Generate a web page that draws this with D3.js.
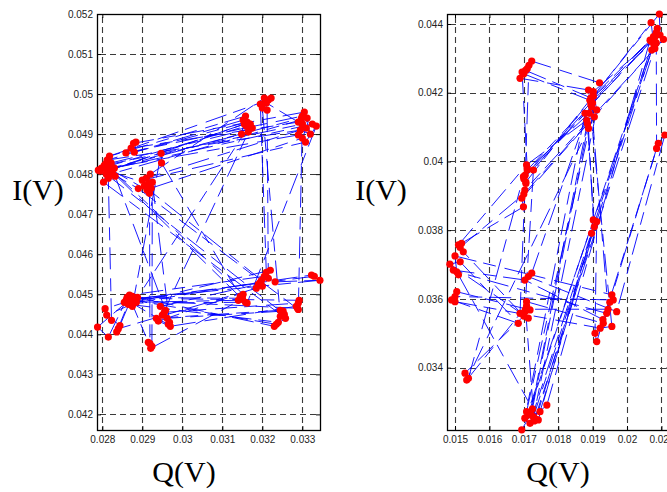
<!DOCTYPE html>
<html><head><meta charset="utf-8">
<script src="https://cdn.jsdelivr.net/npm/d3@7"></script>
<style>body{margin:0;background:#fff} svg{display:block}</style>
</head><body>
<svg id="chart" width="667" height="492"></svg>
<script>
// ---- data: constellation trajectory samples [Q(V), I(V)] in time order ----
const leftPts = [
[0.02815,0.04810],[0.02805,0.04822],[0.03300,0.04925],[0.03312,0.04940],[0.02820,0.04800],
[0.02798,0.04815],[0.03160,0.04920],[0.03152,0.04935],[0.02812,0.04835],[0.03295,0.04910],
[0.03320,0.04900],[0.03305,0.04955],[0.02878,0.04877],[0.02872,0.04865],[0.03290,0.04930],
[0.03210,0.04978],[0.03222,0.04990],[0.03200,0.04965],[0.03245,0.04445],[0.03252,0.04458],
[0.02962,0.04440],[0.02955,0.04455],[0.03290,0.04478],[0.03288,0.04465],[0.02870,0.04485],
[0.02862,0.04492],[0.03150,0.04490],[0.03158,0.04480],[0.02878,0.04478],[0.03195,0.04530],
[0.03205,0.04545],[0.02868,0.04498],[0.02855,0.04480],[0.03323,0.04548],[0.03330,0.04545],
[0.02882,0.04488],[0.02807,0.04464],[0.02823,0.04435],[0.02815,0.04790],[0.02825,0.04805],
[0.02915,0.04775],[0.02922,0.04765],[0.03300,0.04890],[0.03310,0.04915],[0.02910,0.04790],
[0.02918,0.04752],[0.02919,0.04377],[0.02924,0.04370],[0.02925,0.04780],[0.02968,0.04430],
[0.02950,0.04448],[0.03165,0.04905],[0.03170,0.04925],[0.02888,0.04492],[0.02875,0.04470],
[0.02947,0.04852],[0.02948,0.04828],[0.03145,0.04495],[0.03152,0.04500],[0.02808,0.04825],
[0.02795,0.04808],[0.03298,0.04940],[0.03325,0.04925],[0.02830,0.04815],[0.03148,0.04900],
[0.03158,0.04945],[0.02818,0.04845],[0.03215,0.04985],[0.03195,0.04975],[0.03210,0.04555],
[0.03220,0.04560],[0.02865,0.04475],[0.03240,0.04430],[0.03255,0.04450],[0.02810,0.04800],
[0.02832,0.04795],[0.02958,0.04460],[0.02945,0.04470],[0.03190,0.04525],[0.03185,0.04515],
[0.02840,0.04414],[0.02836,0.04406],[0.02870,0.04490],[0.03292,0.04485],[0.03285,0.04470],
[0.02970,0.04420],[0.02940,0.04433],[0.03200,0.04520],[0.03198,0.04535],[0.02905,0.04770],
[0.02900,0.04785],[0.03308,0.04880],[0.03335,0.04920],[0.03162,0.04478],[0.03140,0.04485],
[0.02885,0.04480],[0.02811,0.04448],[0.02844,0.04422],[0.02875,0.04495],[0.03230,0.04420],
[0.03258,0.04440],[0.02803,0.04780],[0.02822,0.04828],[0.03175,0.04915],[0.03162,0.04930],
[0.02880,0.04855],[0.02884,0.04880],[0.02859,0.04853],[0.03300,0.04945],[0.03290,0.04898],
[0.02790,0.04810],[0.02815,0.04815],[0.02912,0.04760],[0.02920,0.04800],[0.03205,0.04990],
[0.03212,0.04960],[0.03215,0.04540],[0.03232,0.04531],[0.03344,0.04535],[0.02870,0.04488],
[0.02788,0.04418],[0.02815,0.04393],[0.02860,0.04486],[0.02965,0.04425],[0.02935,0.04440],
[0.03245,0.04460],[0.03235,0.04425],[0.02878,0.04485],[0.02868,0.04492],[0.02915,0.04380],
[0.02921,0.04365],[0.03150,0.04488],[0.02820,0.04810],[0.03155,0.04925],[0.02812,0.04808],
[0.02890,0.04764],[0.03290,0.04462],[0.03300,0.04925]
];
const rightPts = [
[0.01706,0.03936],[0.01700,0.03950],[0.01897,0.04159],[0.01890,0.04140],[0.01710,0.03975],
[0.02077,0.04363],[0.02070,0.04350],[0.01902,0.04203],[0.01912,0.04150],[0.01728,0.03257],
[0.01718,0.03238],[0.02088,0.04387],[0.02081,0.04329],[0.01694,0.03893],[0.01699,0.03868],
[0.01519,0.03762],[0.01510,0.03757],[0.01708,0.03990],[0.01883,0.04120],[0.01888,0.04096],
[0.01902,0.03830],[0.01897,0.03791],[0.01742,0.03248],[0.01708,0.03272],[0.01920,0.04229],
[0.01723,0.04292],[0.01710,0.04270],[0.01700,0.04255],[0.01892,0.04178],[0.02096,0.04368],
[0.02094,0.04429],[0.01728,0.03975],[0.01703,0.03563],[0.01708,0.03592],[0.01931,0.03529],
[0.01941,0.03558],[0.01505,0.03679],[0.01500,0.03725],[0.01956,0.03612],[0.01960,0.03597],
[0.01500,0.03607],[0.01505,0.03621],[0.01718,0.03568],[0.01529,0.03384],[0.01539,0.03369],
[0.01699,0.03956],[0.01878,0.04140],[0.01703,0.03253],[0.01747,0.03272],[0.01912,0.03825],
[0.01907,0.03500],[0.01912,0.03476],[0.02091,0.04053],[0.02110,0.04077],[0.01970,0.03563],
[0.01713,0.03665],[0.01723,0.03675],[0.01902,0.04190],[0.02067,0.04353],[0.01767,0.03291],
[0.01728,0.03257],[0.02072,0.04324],[0.02106,0.04355],[0.01703,0.03917],[0.01689,0.03558],
[0.01713,0.03544],[0.01485,0.03701],[0.01515,0.03708],[0.01684,0.03529],[0.01490,0.03597],
[0.01500,0.03592],[0.01922,0.03515],[0.01956,0.03520],[0.01888,0.04208],[0.01689,0.04242],
[0.01695,0.04260],[0.01710,0.03980],[0.01706,0.03940],[0.02070,0.04404],[0.02078,0.04340],
[0.01694,0.03219],[0.01720,0.03265],[0.01895,0.04165],[0.01905,0.04130],[0.01534,0.03364],
[0.01708,0.03580],[0.01700,0.03550],[0.01524,0.03737],[0.01515,0.03750],[0.01700,0.03905],
[0.01885,0.04110],[0.01905,0.03810],[0.01735,0.03250],[0.01712,0.03262],[0.02085,0.04375],
[0.02086,0.04038],[0.01950,0.03590],[0.01930,0.03540],[0.01703,0.03655],[0.01495,0.03684],
[0.01510,0.03670],[0.01725,0.03280],[0.01900,0.04170],[0.02080,0.04360],[0.01704,0.03960],
[0.01715,0.04280],[0.01705,0.04265],[0.01895,0.04185],[0.01945,0.03570],[0.01705,0.03570],
[0.01730,0.03245],[0.02085,0.04345]
];
const leftXTicks  = [0.028,0.029,0.030,0.031,0.032,0.033];
const leftYTicks  = [0.042,0.043,0.044,0.045,0.046,0.047,0.048,0.049,0.050,0.051,0.052];
const rightXTicks = [0.015,0.016,0.017,0.018,0.019,0.020,0.021];
const rightYTicks = [0.034,0.036,0.038,0.040,0.042,0.044];
const leftXDomain  = [0.027867, 0.033442];
const leftYDomain  = [0.041610, 0.052000];
const rightXDomain = [0.014767, 0.021250];
const rightYDomain = [0.032186, 0.044291];
const xLabel = "Q(V)", yLabel = "I(V)";

// ---- drawing ----
const svg = d3.select("#chart");
svg.append("rect").attr("width",667).attr("height",492).attr("fill","#fff");
const fmt = d => String(+d.toFixed(3));

function panel(pts, xd, yd, xt, yt, left, xlabX, ylabX) {
  const W = 223, top = 14, H = 416;
  const x = d3.scaleLinear().domain(xd).range([left, left + W]);
  const y = d3.scaleLinear().domain(yd).range([top + H, top]);
  const g = svg.append("g");
  const clipId = "clip" + left;
  g.append("clipPath").attr("id", clipId).append("rect")
    .attr("x", left).attr("y", top).attr("width", W).attr("height", H);

  // grid
  const grid = g.append("g").attr("stroke", "#3a3a3a").attr("stroke-width", 1.1)
    .attr("stroke-dasharray", "6,4").attr("fill", "none");
  grid.selectAll("line.v").data(xt).join("line").attr("class","v")
    .attr("x1", d => Math.round(x(d)) + 0.5).attr("x2", d => Math.round(x(d)) + 0.5)
    .attr("y1", top + 3).attr("y2", top + H);
  grid.selectAll("line.h").data(yt).join("line").attr("class","h")
    .attr("y1", d => Math.round(y(d)) + 0.5).attr("y2", d => Math.round(y(d)) + 0.5)
    .attr("x1", left + 3).attr("x2", left + W);

  // axes
  const styleAxis = a => {
    a.select(".domain").remove();
    a.selectAll(".tick line").attr("stroke", "#000");
    a.selectAll("text").attr("fill", "#222").attr("font-family", "Liberation Sans, Arial, sans-serif")
      .attr("font-size", "10px");
  };
  g.append("g").attr("transform", `translate(0,${top + H})`)
    .call(d3.axisBottom(x).tickValues(xt).tickFormat(fmt).tickSizeInner(-4).tickSizeOuter(0).tickPadding(6))
    .call(styleAxis);
  g.append("g").attr("transform", `translate(${left},0)`)
    .call(d3.axisLeft(y).tickValues(yt).tickFormat(fmt).tickSizeInner(-4).tickSizeOuter(0).tickPadding(4))
    .call(styleAxis);
  g.append("g").attr("transform", `translate(0,${top})`)
    .call(d3.axisTop(x).tickValues(xt).tickFormat("").tickSizeInner(-4).tickSizeOuter(0))
    .call(styleAxis);
  g.append("g").attr("transform", `translate(${left + W},0)`)
    .call(d3.axisRight(y).tickValues(yt).tickFormat("").tickSizeInner(-4).tickSizeOuter(0))
    .call(styleAxis);

  // box
  g.append("rect").attr("x", left + 0.5).attr("y", top + 0.5).attr("width", W).attr("height", H)
    .attr("fill", "none").attr("stroke", "#000").attr("stroke-width", 1.3);

  // trajectory: one segment per consecutive pair of samples
  const segs = d3.pairs(pts);
  g.append("g").attr("clip-path", `url(#${clipId})`)
    .attr("stroke", "#0000ff").attr("stroke-width", 0.9).attr("stroke-dasharray", "22,7,13,9")
    .selectAll("line").data(segs).join("line")
    .attr("x1", d => x(d[0][0])).attr("y1", d => y(d[0][1]))
    .attr("x2", d => x(d[1][0])).attr("y2", d => y(d[1][1]));

  // samples
  g.append("g").attr("fill", "#ff0000").selectAll("circle").data(pts).join("circle")
    .attr("cx", d => x(d[0])).attr("cy", d => y(d[1])).attr("r", 3.6);

  // labels
  g.append("text").attr("x", xlabX).attr("y", 482).attr("text-anchor", "middle")
    .attr("font-family", "Liberation Serif, Times New Roman, serif").attr("font-size", "30px")
    .attr("fill", "#000").text(xLabel);
  g.append("text").attr("x", ylabX).attr("y", 200).attr("text-anchor", "middle")
    .attr("font-family", "Liberation Serif, Times New Roman, serif").attr("font-size", "30px")
    .attr("fill", "#000").text(yLabel);
}

panel(leftPts, leftXDomain, leftYDomain, leftXTicks, leftYTicks, 97, 184, 38);
panel(rightPts, rightXDomain, rightYDomain, rightXTicks, rightYTicks, 447, 558, 381);
</script>
</body></html>
